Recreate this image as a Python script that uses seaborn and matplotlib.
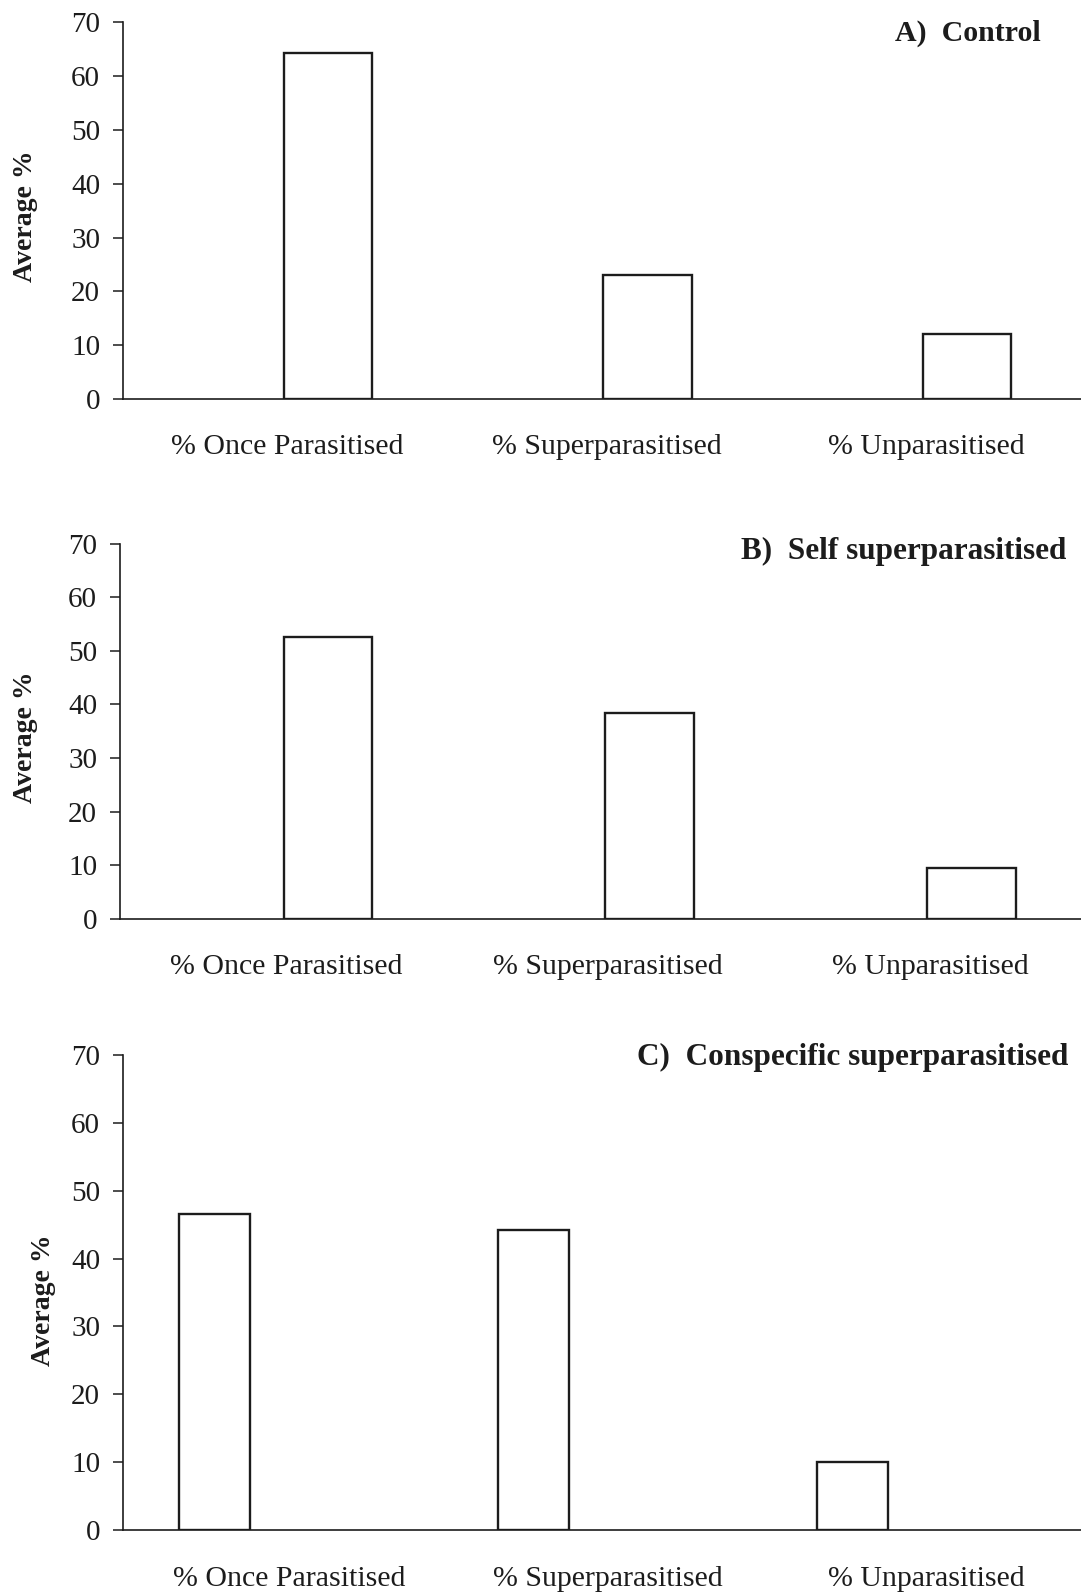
import matplotlib
matplotlib.use("Agg")
import matplotlib.pyplot as plt
from matplotlib.ticker import FixedLocator, FixedFormatter
import pandas as pd
import seaborn as sns

# Outcome categories and average percentages for each treatment
categories = ["% Once Parasitised", "% Superparasitised", "% Unparasitised"]
control = [64.3, 23.0, 12.1]
self_superparasitised = [52.6, 38.4, 9.5]
conspecific_superparasitised = [46.5, 44.2, 10.0]

panel_titles = ["A)  Control", "B)  Self superparasitised",
                "C)  Conspecific superparasitised"]
y_label = "Average %"
y_ticks = [0, 10, 20, 30, 40, 50, 60, 70]

sns.set_theme(style="ticks")
plt.rcParams["font.family"] = ["Liberation Serif", "DejaVu Serif"]

W, H = 1081, 1594
INK = "#1c1c1c"
fig = plt.figure(figsize=(W / 100, H / 100), dpi=100)


def rect_from_px(left, top, bottom):
    return [left / W, 1 - bottom / H, 1 - left / W, (bottom - top) / H]


# Panel geometry in pixels (left spine, top of axis, baseline)
layouts = [
    dict(box=(123, 22.5, 399), xlim=(-0.642, 2.357), shift=-0.127, width=0.278,
         pad=25, title=(1041, 33), ylab=(25, 216), title_size=21.5),
    dict(box=(120, 543.5, 919), xlim=(-0.646, 2.339), shift=-0.130, width=0.276,
         pad=25, title=(1066, 551), ylab=(25, 737), title_size=22.5),
    dict(box=(123, 1055, 1530), xlim=(-0.287, 2.718), shift=0.234, width=0.223,
         pad=26, title=(1068, 1057.6), ylab=(43, 1300), title_size=22.5),
]

series = [control, self_superparasitised, conspecific_superparasitised]

for values, title, lay in zip(series, panel_titles, layouts):
    ax = fig.add_axes(rect_from_px(*lay["box"]))
    df = pd.DataFrame({"category": categories, "value": values})
    sns.barplot(data=df, x="category", y="value", ax=ax, color="white",
                saturation=1, edgecolor=INK, linewidth=1.7,
                width=lay["width"], errorbar=None)

    ax.set_ylim(0, 70)
    ax.set_xlim(*lay["xlim"])
    ax.yaxis.set_major_locator(FixedLocator(y_ticks))
    ax.yaxis.set_major_formatter(FixedFormatter([str(t) for t in y_ticks]))
    ax.xaxis.set_major_locator(
        FixedLocator([i + lay["shift"] for i in range(len(categories))]))
    ax.xaxis.set_major_formatter(FixedFormatter(categories))
    ax.set_xlabel("")
    ax.set_ylabel("")

    for side in ("top", "right"):
        ax.spines[side].set_visible(False)
    for side in ("left", "bottom"):
        ax.spines[side].set_color(INK)
        ax.spines[side].set_linewidth(1.2)

    ax.tick_params(axis="y", length=7.5, width=1.1, pad=9,
                   labelsize=21, colors=INK)
    ax.tick_params(axis="x", length=0, pad=lay["pad"], labelsize=21.5,
                   colors=INK)

    tx, ty = lay["title"]
    fig.text(tx / W, 1 - ty / H, title, ha="right", va="center",
             fontsize=lay["title_size"], fontweight="bold", color=INK)
    lx, ly = lay["ylab"]
    fig.text(lx / W, 1 - ly / H, y_label, rotation=90, ha="center",
             va="center", fontsize=20, fontweight="bold", color=INK)

fig.savefig("out.png", dpi=100, facecolor="white")
